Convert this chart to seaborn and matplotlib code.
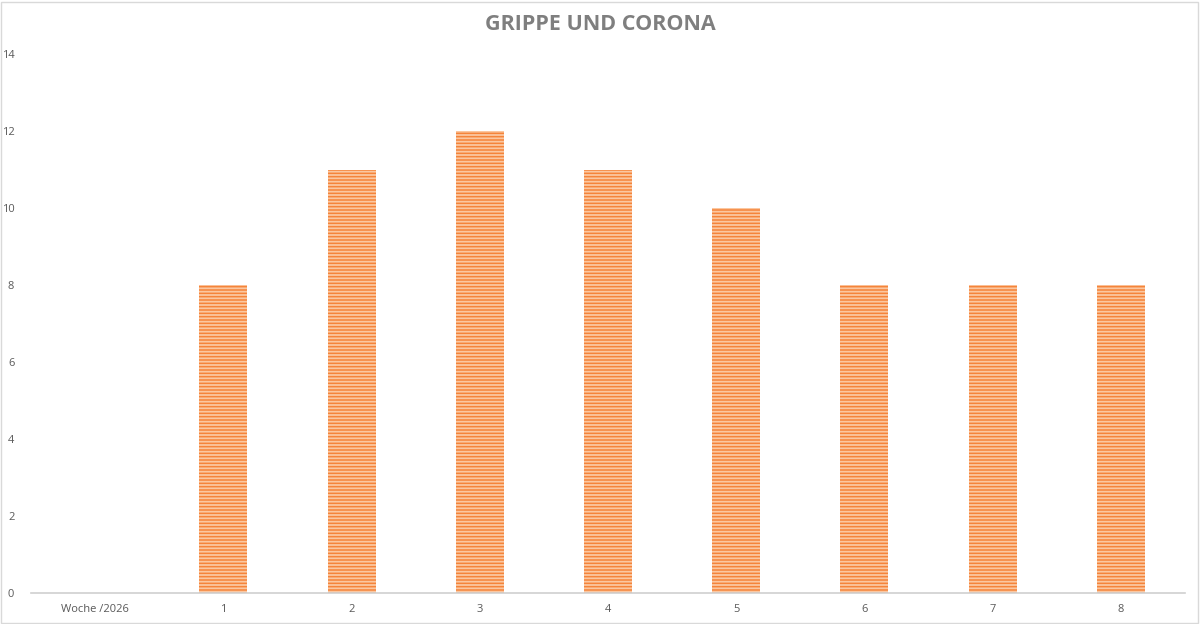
import matplotlib
matplotlib.use("Agg")
import matplotlib.pyplot as plt
import seaborn as sns
import pandas as pd

# Daten aus dem Diagramm
kategorien = ["Woche /2026", "1", "2", "3", "4", "5", "6", "7", "8"]
faelle = [0, 8, 11, 12, 11, 10, 8, 8, 8]
y_ticks = [0, 2, 4, 6, 8, 10, 12, 14]

df = pd.DataFrame({"Woche": kategorien, "Faelle": faelle})

sns.set_theme(style="white")
plt.rcParams["font.family"] = ["Open Sans", "DejaVu Sans"]
plt.rcParams["hatch.linewidth"] = 1.3

fig = plt.figure(figsize=(12, 6.24), dpi=100)
ax = fig.add_axes([31 / 1200, 31 / 624, 1154 / 1200, 539 / 624])

sns.barplot(data=df, x="Woche", y="Faelle", ax=ax, width=0.375,
            color="#F5843A", saturation=1)
for bar in ax.patches:
    bar.set_hatch("-----")
    bar.set_edgecolor("#FBC7A0")
    bar.set_linewidth(0)

ax.set_ylim(0, 14)
ax.set_xlim(-0.5, len(kategorien) - 0.5)
ax.set_yticks(y_ticks)
ax.set_xlabel("")
ax.set_ylabel("")
ax.tick_params(axis="both", length=0, labelsize=8, labelcolor="#595959")
ax.tick_params(axis="y", pad=12)
ax.tick_params(axis="x", pad=8)

for side in ["top", "right", "left"]:
    ax.spines[side].set_visible(False)
ax.spines["bottom"].set_color("#D0D0D0")
ax.spines["bottom"].set_linewidth(1.2)

fig.text(0.5, 1 - 25 / 624, "GRIPPE UND CORONA",
         ha="center", va="center", fontsize=15.5, fontweight="bold",
         color="#7F7F7F")

# Rahmen um das Diagramm
fig.patches.append(plt.Rectangle((0.001, 0.002), 0.997, 0.995,
                                 transform=fig.transFigure, fill=False,
                                 edgecolor="#D9D9D9", linewidth=1))

fig.savefig("out.png", dpi=100)
